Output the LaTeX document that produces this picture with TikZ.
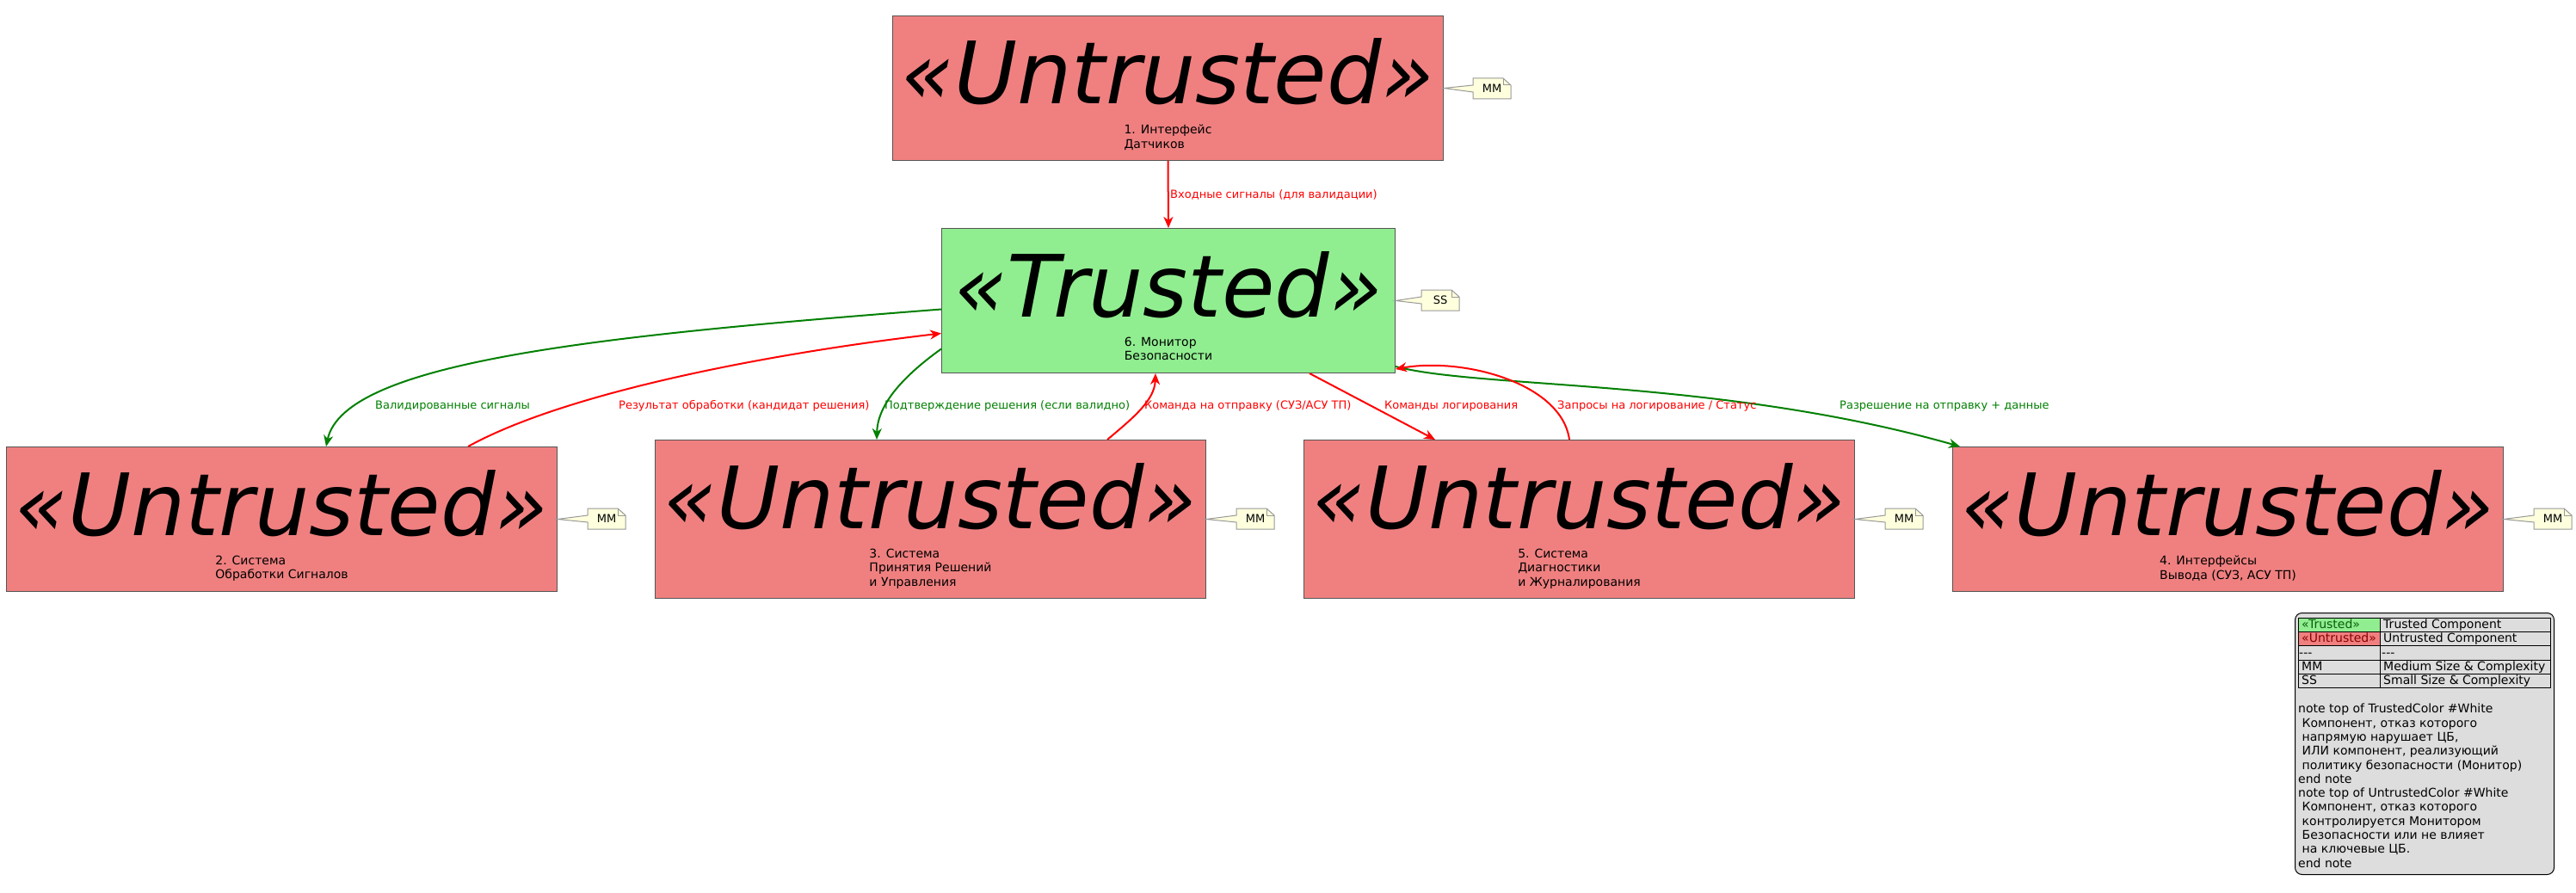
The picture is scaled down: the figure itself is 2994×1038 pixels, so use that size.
\documentclass[tikz,border=0pt]{standalone}
\usepackage{fontspec}
\setmainfont{DejaVu Sans}
\usetikzlibrary{arrows.meta}

\definecolor{untrustedred}{HTML}{F08080}
\definecolor{trustedgreen}{HTML}{90EE90}
\definecolor{boxline}{HTML}{555555}
\definecolor{notefill}{HTML}{FEFFDD}
\definecolor{noteline}{HTML}{999999}
\definecolor{linkred}{HTML}{FF0000}
\definecolor{linkgreen}{HTML}{008000}
\definecolor{legendgray}{HTML}{DDDDDD}
\definecolor{keygreen}{HTML}{0B5D0B}
\definecolor{keyred}{HTML}{8B0000}

% note with folded corner and a tail to its component
\newcommand{\umlnote}[5]{%
  \path[fill=notefill,draw=noteline,line width=1pt] (#2-22,#3-12) -- (#2+13,#3-12) -- (#2+22,#3-4) -- (#2+22,#3+12) -- (#2-22,#3+12) -- (#2-22,#3+4) -- (#5.east) -- (#2-22,#3-4) -- cycle;
  \path[draw=noteline,line width=1pt] (#2+13,#3-12) -- (#2+13,#3-4) -- (#2+22,#3-4);
  \path (#2,#3) node (#1) [notetext] {#4};
}

\begin{document}
\begin{tikzpicture}[x=1pt,y=-1pt,
  every node/.style={inner sep=0pt},
  untrusted/.style={shape=rectangle,draw=boxline,line width=1pt,fill=untrustedred,minimum width=640pt,minimum height=168pt,anchor=north west},
  tallbox/.style={untrusted,minimum height=184pt},
  trusted/.style={untrusted,fill=trustedgreen,minimum width=527pt},
  stereo/.style={font=\fontsize{100}{116}\selectfont\itshape,anchor=base},
  complabel/.style={font=\fontsize{14}{16.3}\selectfont,align=left,anchor=north},
  notetext/.style={font=\fontsize{13}{15}\selectfont},
  redlink/.style={color=linkred,line width=2pt,-{Stealth[length=13pt,width=11pt,inset=4pt]}},
  greenlink/.style={redlink,color=linkgreen},
  redlabel/.style={font=\fontsize{13}{15}\selectfont,text=linkred,anchor=west},
  greenlabel/.style={redlabel,text=linkgreen},
  legendbox/.style={shape=rectangle,draw=black,line width=1pt,fill=legendgray,rounded corners=8pt,minimum width=301pt,minimum height=304pt,anchor=north west},
  legendtext/.style={font=\fontsize{14}{16.3}\selectfont,anchor=base west}]
\path[fill=white] (0,0) rectangle (2994,1038);
\useasboundingbox (0,0) rectangle (2994,1038);

% components
\path (1037,18) node (n1) [untrusted] {};
\path (1094,265) node (n6) [trusted] {};
\path (7,519) node (n2) [untrusted] {};
\path (761,511) node (n3) [tallbox] {};
\path (1515,511) node (n5) [tallbox] {};
\path (2269,519) node (n4) [untrusted] {};

\path ([yshift=-103pt]n1.north) node (s1) [stereo] {«Untrusted»};
\path ([yshift=-103pt]n6.north) node (s6) [stereo] {«Trusted»};
\path ([yshift=-103pt]n2.north) node (s2) [stereo] {«Untrusted»};
\path ([yshift=-103pt]n3.north) node (s3) [stereo] {«Untrusted»};
\path ([yshift=-103pt]n5.north) node (s5) [stereo] {«Untrusted»};
\path ([yshift=-103pt]n4.north) node (s4) [stereo] {«Untrusted»};

\path ([yshift=-127pt]n1.north) node (t1) [complabel] {1. Интерфейс\\Датчиков};
\path ([yshift=-127pt]n6.north) node (t6) [complabel] {6. Монитор\\Безопасности};
\path ([yshift=-127pt]n2.north) node (t2) [complabel] {2. Система\\Обработки Сигналов};
\path ([yshift=-127pt]n3.north) node (t3) [complabel] {3. Система\\Принятия Решений\\и Управления};
\path ([yshift=-127pt]n5.north) node (t5) [complabel] {5. Система\\Диагностики\\и Журналирования};
\path ([yshift=-127pt]n4.north) node (t4) [complabel] {4. Интерфейсы\\Вывода (СУЗ, АСУ ТП)};

% notes
\umlnote{m1}{1734}{103}{MM}{n1}
\umlnote{ss6}{1674}{349}{SS}{n6}
\umlnote{m2}{705}{603}{MM}{n2}
\umlnote{m3}{1459}{603}{MM}{n3}
\umlnote{m5}{2213}{603}{MM}{n5}
\umlnote{m4}{2967}{603}{MM}{n4}

% links
\draw [redlink] (n1.south) to (n6.north);
\draw [greenlink] ([yshift=-10pt]n6.west) .. controls (700,390) and (400,420) .. ([xshift=372pt]n2.north west);
\draw [redlink] ([xshift=537pt]n2.north west) .. controls (660,455) and (900,410) .. ([yshift=-38pt]n6.west);
\draw [greenlink] ([yshift=-56pt]n6.west) .. controls (1060,430) and (1020,465) .. ([xshift=258pt]n3.north west);
\draw [redlink] ([xshift=526pt]n3.north west) .. controls (1318,485) and (1342,465) .. ([xshift=249pt]n6.south west);
\draw [redlink] ([xshift=428pt]n6.south west) to ([xshift=153pt]n5.north west);
\draw [greenlink] ([yshift=8pt]n6.south east) .. controls (1720,452) and (2000,440) .. ([xshift=9pt]n4.north west);
\draw [redlink] ([xshift=309pt]n5.north west) .. controls (1815,445) and (1700,415) .. ([yshift=5pt]n6.south east);

\path (1360,226) node (l1) [redlabel] {Входные сигналы (для валидации)};
\path (436,472) node (l2) [greenlabel] {Валидированные сигналы};
\path (719,472) node (l3) [redlabel] {Результат обработки (кандидат решения)};
\path (1028,472) node (l4) [greenlabel] {Подтверждение решения (если валидно)};
\path (1330,472) node (l5) [redlabel] {Команда на отправку (СУЗ/АСУ ТП)};
\path (1609,472) node (l6) [redlabel] {Команды логирования};
\path (1810,472) node (l7) [redlabel] {Запросы на логирование / Статус};
\path (2138,472) node (l8) [greenlabel] {Разрешение на отправку + данные};

% legend
\path (2667,712) node (legend) [legendbox] {};
\fill[trustedgreen] (2671,718) rectangle (2766,734);
\fill[untrustedred] (2671,734) rectangle (2766,750);
\draw[line width=1pt] (2671,718) rectangle (2964,799);
\draw[line width=1pt] (2766,718) -- (2766,799);
\draw[line width=1pt] (2671,734) -- (2964,734);
\draw[line width=1pt] (2671,750) -- (2964,750);
\draw[line width=1pt] (2671,767) -- (2964,767);
\draw[line width=1pt] (2671,783) -- (2964,783);
\path (2675,730.5) node (k1) [legendtext,text=keygreen] {«Trusted»};
\path (2770,730.5) node (v1) [legendtext] {Trusted Component};
\path (2675,746.5) node (k2) [legendtext,text=keyred] {«Untrusted»};
\path (2770,746.5) node (v2) [legendtext] {Untrusted Component};
\path (2672,763) node (k3) [legendtext] {-{}-{}-};
\path (2768,763) node (v3) [legendtext] {-{}-{}-};
\path (2675,779) node (k4) [legendtext] {MM};
\path (2770,779) node (v4) [legendtext] {Medium Size \& Complexity};
\path (2675,795) node (k5) [legendtext] {SS};
\path (2770,795) node (v5) [legendtext] {Small Size \& Complexity};
\path (2671,818) node (legendnotes) [legendtext,align=left,anchor=north west] {note top of TrustedColor \#White\\
\hspace*{4.5pt}Компонент, отказ которого\\
\hspace*{4.5pt}напрямую нарушает ЦБ,\\
\hspace*{4.5pt}ИЛИ компонент, реализующий\\
\hspace*{4.5pt}политику безопасности (Монитор)\\
end note\\
note top of UntrustedColor \#White\\
\hspace*{4.5pt}Компонент, отказ которого\\
\hspace*{4.5pt}контролируется Монитором\\
\hspace*{4.5pt}Безопасности или не влияет\\
\hspace*{4.5pt}на ключевые ЦБ.\\
end note};
\end{tikzpicture}
\end{document}
